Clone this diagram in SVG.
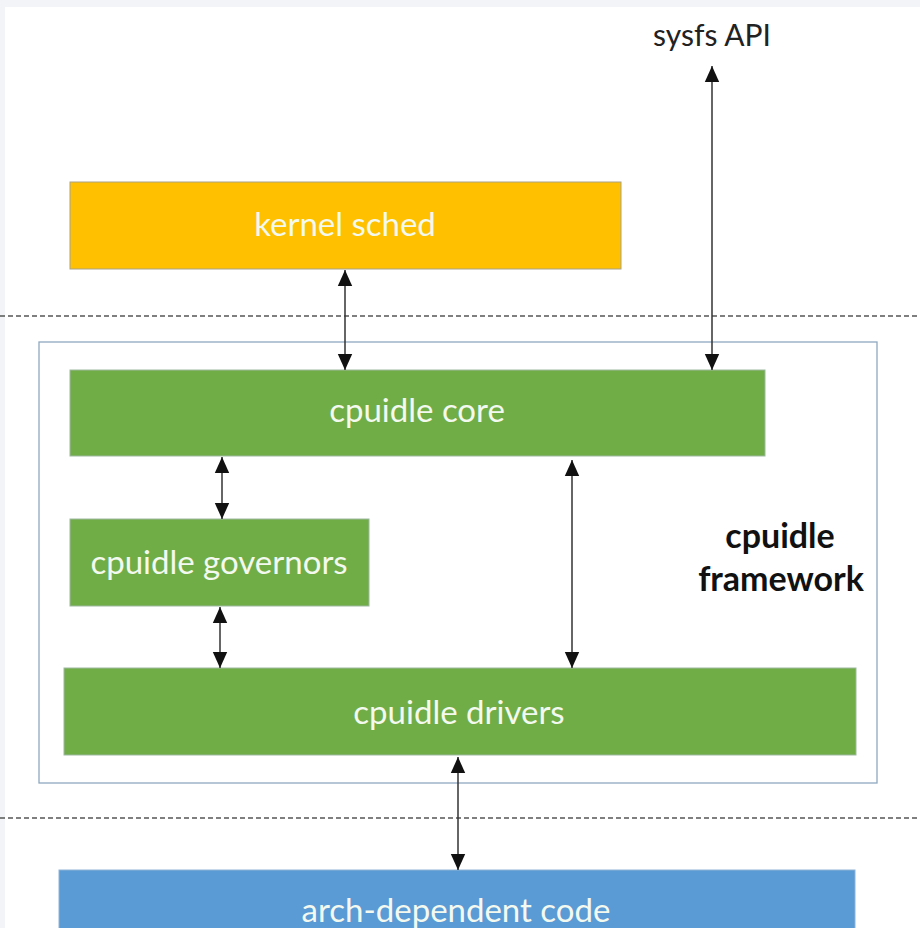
<svg xmlns="http://www.w3.org/2000/svg" width="920" height="928" viewBox="0 0 920 928">
<defs>
<marker id="ah" viewBox="0 0 10 10" refX="10" refY="5" markerWidth="16" markerHeight="16" markerUnits="userSpaceOnUse" orient="auto-start-reverse">
<path d="M0,0.5 L10,5 L0,9.5 Z" fill="#111"/>
</marker>
<style>
.lbl{font-family:Lato,"Liberation Sans",sans-serif;font-size:33px;fill:#f4f9ef;text-anchor:middle}
.con{stroke:#333;stroke-width:1.5;fill:none;marker-start:url(#ah);marker-end:url(#ah)}
.dash{stroke:#555;stroke-width:1.3;stroke-dasharray:5,3;fill:none}
.fw{font-family:Lato,"Liberation Sans",sans-serif;font-size:34px;font-weight:bold;fill:#111;text-anchor:middle}
</style>
</defs>
<rect x="0" y="0" width="920" height="928" fill="#f3f4f7"/>
<rect x="5" y="7" width="915" height="921" fill="#ffffff"/>
<line class="dash" x1="0" y1="316" x2="920" y2="316"/>
<line class="dash" x1="0" y1="818" x2="920" y2="818"/>
<g id="framework">
<rect x="39" y="342" width="838" height="441" fill="none" stroke="#8fa8c0" stroke-width="1.3"/>
<text class="fw" x="780" y="548">cpuidle</text>
<text class="fw" x="781" y="591">framework</text>
</g>
<g id="sysfs">
<text x="712" y="46" font-family="Lato,'Liberation Sans',sans-serif" font-size="30" fill="#222" text-anchor="middle">sysfs API</text>
</g>
<g id="kernel-sched">
<rect x="70" y="182" width="551" height="87" fill="#ffc000" stroke="#a9a28a" stroke-width="1"/>
<text class="lbl" x="345" y="236">kernel sched</text>
</g>
<g id="cpuidle-core">
<rect x="70" y="370" width="695" height="86" fill="#70ad47" stroke="#9db8a0" stroke-width="1"/>
<text class="lbl" x="417" y="422">cpuidle core</text>
</g>
<g id="cpuidle-governors">
<rect x="70" y="519" width="299" height="87" fill="#70ad47" stroke="#9db8a0" stroke-width="1"/>
<text class="lbl" x="219" y="574">cpuidle governors</text>
</g>
<g id="cpuidle-drivers">
<rect x="64" y="668" width="792" height="87" fill="#70ad47" stroke="#9db8a0" stroke-width="1"/>
<text class="lbl" x="459" y="724">cpuidle drivers</text>
</g>
<g id="arch-code">
<rect x="59" y="870" width="796" height="70" fill="#5b9bd5" stroke="#8fb3d6" stroke-width="1"/>
<text class="lbl" x="456" y="922">arch-dependent code</text>
</g>
<g id="connectors">
<line class="con" x1="712" y1="66" x2="712" y2="370"/>
<line class="con" x1="345" y1="270" x2="345" y2="370"/>
<line class="con" x1="222" y1="457" x2="222" y2="519"/>
<line class="con" x1="220" y1="607" x2="220" y2="668"/>
<line class="con" x1="572" y1="460" x2="572" y2="668"/>
<line class="con" x1="458" y1="757" x2="458" y2="870"/>
</g>
</svg>
